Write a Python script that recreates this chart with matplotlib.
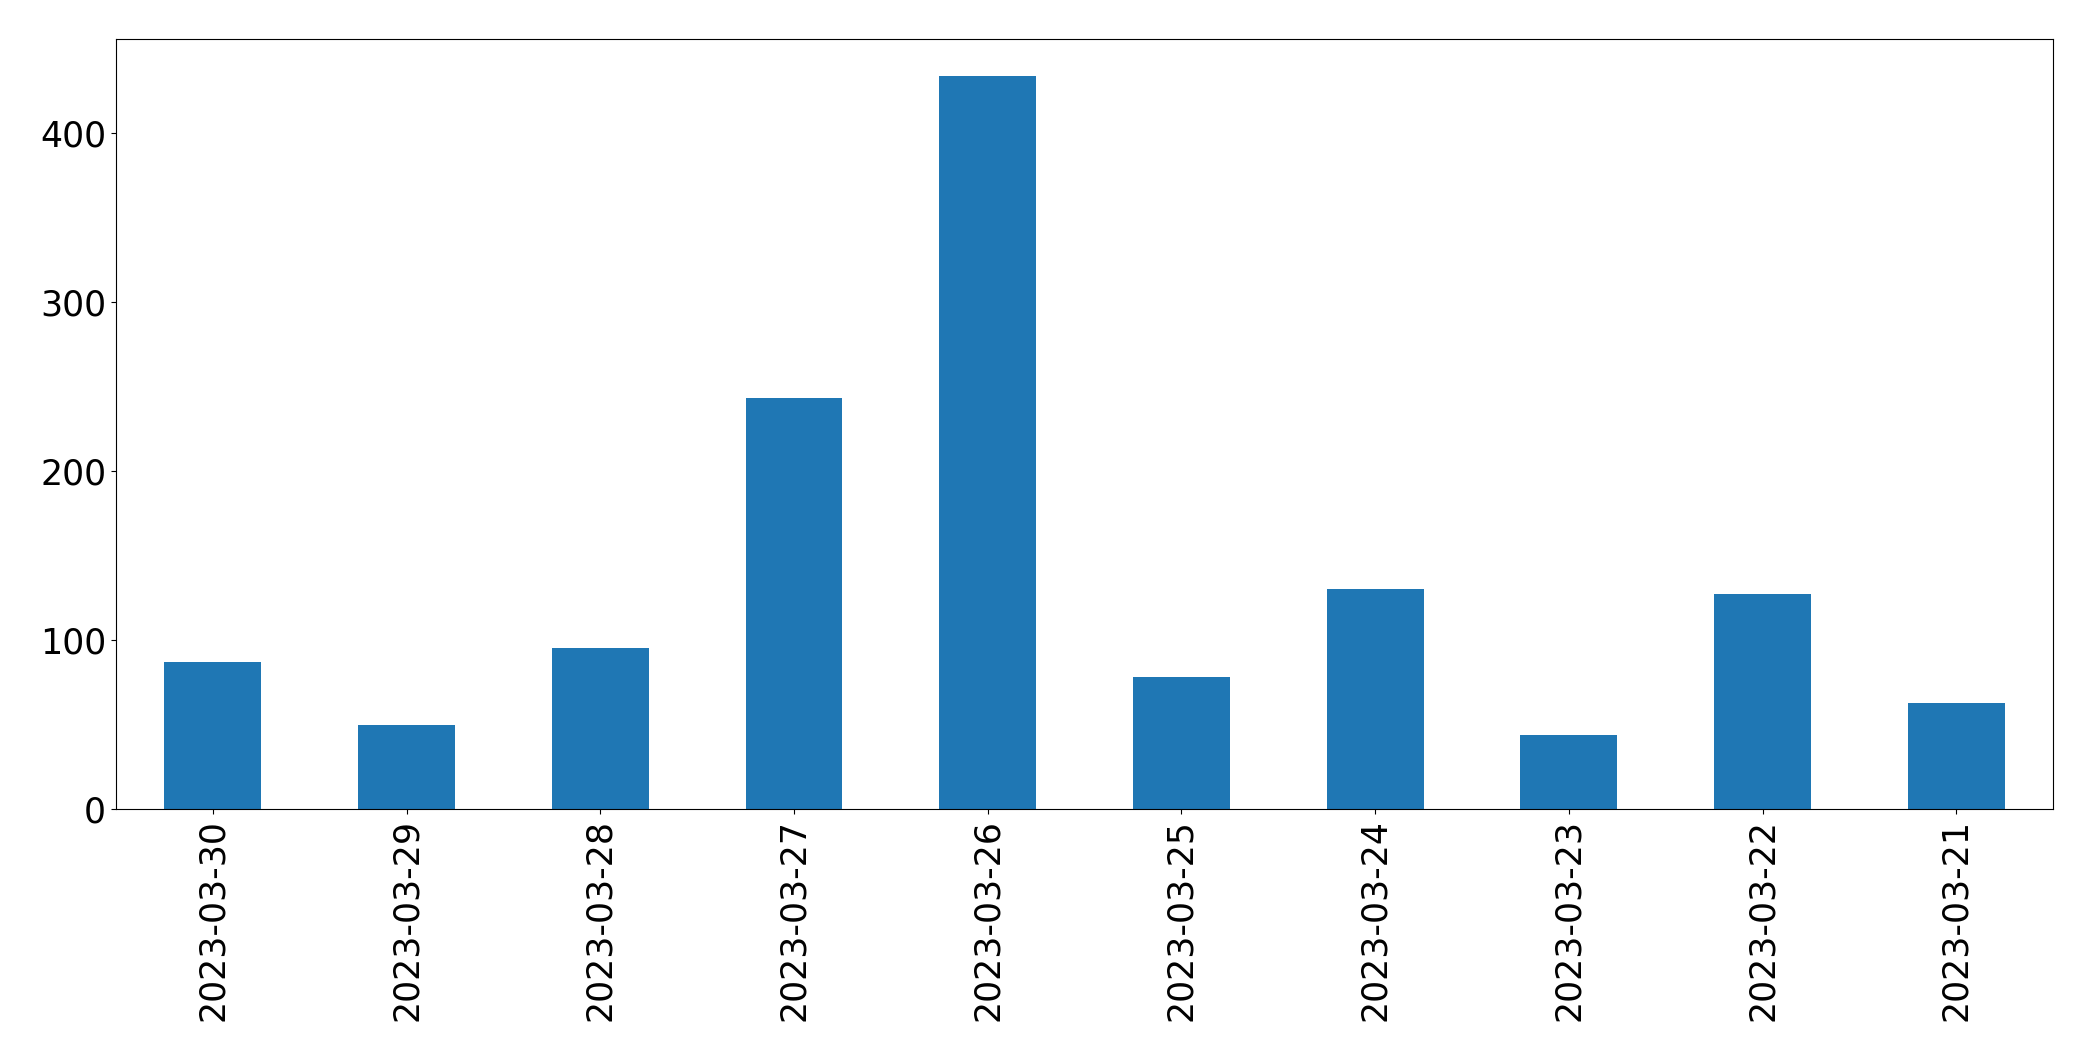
import numpy as np
import matplotlib
matplotlib.use('Agg')
import matplotlib.pyplot as plt

dates = ['2023-03-30', '2023-03-29', '2023-03-28', '2023-03-27', '2023-03-26',
         '2023-03-25', '2023-03-24', '2023-03-23', '2023-03-22', '2023-03-21']
counts = [87, 50, 95, 243, 434, 78, 130, 44, 127, 63]

fig = plt.figure(figsize=(20.93, 10.61), dpi=100)
ax = fig.add_axes([0.0554, 0.2375, 0.9256, 0.7257])

x = np.arange(len(dates))
ax.bar(x, counts, width=0.5, color='#1f77b4')
ax.set_xlim(-0.5, len(dates) - 0.5)
ax.set_xticks(x)
ax.set_xticklabels(dates, rotation=90)
ax.tick_params(labelsize=25)

fig.savefig('out.png', dpi=100)
